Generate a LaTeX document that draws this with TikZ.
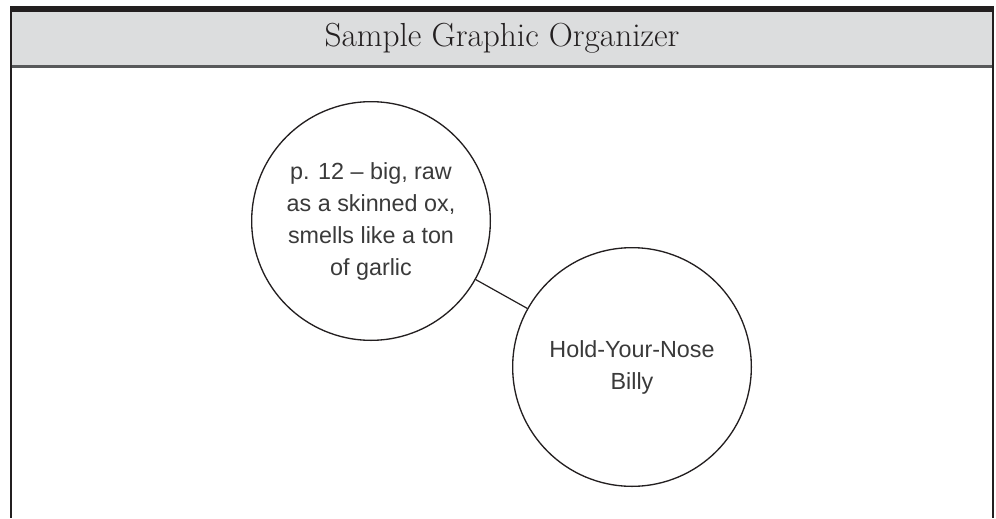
\documentclass[tikz,border=0pt]{standalone}
\usepackage{fontspec}
\newfontfamily\handfont{Liberation Sans}
\definecolor{ink}{HTML}{231F20}
\definecolor{headgray}{HTML}{DCDDDE}
\definecolor{rulegray}{HTML}{58595B}
\definecolor{textgray}{HTML}{3A3A3A}
\begin{document}
\begin{tikzpicture}[x=0.75pt,y=-0.75pt,
  bubble/.style={circle,draw=ink,line width=1pt,minimum size=179pt,inner sep=0pt,
    align=center,text=textgray,font=\handfont\fontsize{17.5}{24}\selectfont},
  link/.style={draw=ink,line width=0.9pt},
  frameline/.style={draw=ink,line width=1.6pt}]
\useasboundingbox (0,0) rectangle (996,518);
% header
\fill[headgray] (11,11) rectangle (993,66);
\fill[ink] (10,6) rectangle (994,11.5);
\draw[rulegray,line width=1.8pt] (11,66.5) -- (993,66.5);
\draw[frameline] (11,6) -- (11,518);
\draw[frameline] (993,6) -- (993,518);
\node[text=ink,font=\fontsize{25}{30}\selectfont] (title) at (502,38) {Sample Graphic Organizer};
% bubbles
\node[bubble] (detail) at (371,221) {p. 12 – big, raw\\as a skinned ox,\\smells like a ton\\of garlic};
\node[bubble] (name) at (632,367) {Hold-Your-Nose\\Billy};
\draw[link] (detail) -- (name);
\end{tikzpicture}
\end{document}
